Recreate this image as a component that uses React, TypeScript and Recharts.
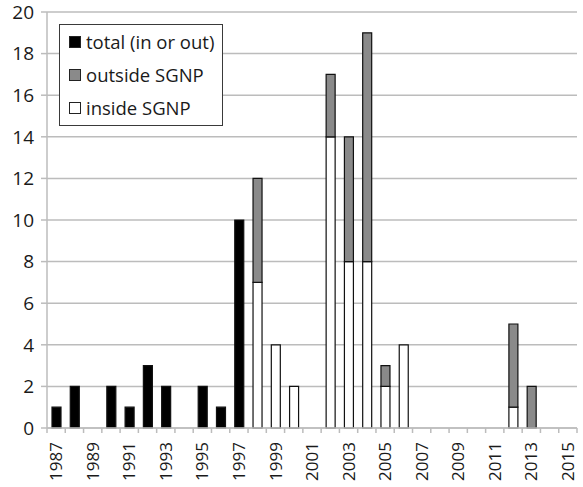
import React from "react";
import {
  BarChart,
  Bar,
  XAxis,
  YAxis,
  CartesianGrid,
  Legend,
} from "recharts";

const YEARS: string[] = [
  "1987", "1988", "1989", "1990", "1991", "1992", "1993", "1994", "1995", "1996",
  "1997", "1998", "1999", "2000", "2001", "2002", "2003", "2004", "2005", "2006",
  "2007", "2008", "2009", "2010", "2011", "2012", "2013", "2014", "2015",
];

const TOTAL: number[] = [
  1, 2, 0, 2, 1, 3, 2, 0, 2, 1,
  10, 0, 0, 0, 0, 0, 0, 0, 0, 0,
  0, 0, 0, 0, 0, 0, 0, 0, 0,
];

const INSIDE: number[] = [
  0, 0, 0, 0, 0, 0, 0, 0, 0, 0,
  0, 7, 4, 2, 0, 14, 8, 8, 2, 4,
  0, 0, 0, 0, 0, 1, 0, 0, 0,
];

const OUTSIDE: number[] = [
  0, 0, 0, 0, 0, 0, 0, 0, 0, 0,
  0, 5, 0, 0, 0, 3, 6, 11, 1, 0,
  0, 0, 0, 0, 0, 4, 2, 0, 0,
];

const Y_TICKS: number[] = [0, 2, 4, 6, 8, 10, 12, 14, 16, 18, 20];

const SERIES_NAMES = {
  total: "total (in or out)",
  outside: "outside SGNP",
  inside: "inside SGNP",
};
const LEGEND_ORDER = ["total", "outside", "inside"];

const data = YEARS.map((year, i) => ({
  year,
  total: TOTAL[i],
  inside: INSIDE[i],
  outside: OUTSIDE[i],
}));

const CHART_W = 583;
const CHART_H = 487;
const MARGIN = { top: 12, right: 6, left: 0, bottom: 0 };
const Y_AXIS_W = 47;
const X_AXIS_H = 59;
const FONT = "'Open Sans', sans-serif";
const GRID = "#bcbcbc";

const PLOT_W = CHART_W - MARGIN.left - MARGIN.right - Y_AXIS_W;
const HALF_STEP = PLOT_W / YEARS.length / 2;

const XTick = (props: any) => {
  const { x, y, payload, index } = props;
  const isLast = index === YEARS.length - 1;
  const showLabel = Number(payload.value) % 2 === 1;
  const ly = y + 14;
  return (
    <g>
      <line x1={x - HALF_STEP} x2={x - HALF_STEP} y1={y} y2={y + 5} stroke={GRID} strokeWidth={1.5} />
      {isLast && (
        <line x1={x + HALF_STEP} x2={x + HALF_STEP} y1={y} y2={y + 5} stroke={GRID} strokeWidth={1.5} />
      )}
      {showLabel && (
        <text
          x={x}
          y={ly}
          transform={`rotate(-90, ${x}, ${ly})`}
          textAnchor="end"
          dy="0.36em"
          fontSize={17}
          fontFamily={FONT}
          fill="#1a1a1a"
        >
          {payload.value}
        </text>
      )}
    </g>
  );
};

const LegendBox = (props: any) => {
  const payload: any[] = props.payload || [];
  const items = LEGEND_ORDER.map((k) => payload.find((p) => p.dataKey === k)).filter(Boolean);
  return (
    <div
      style={{
        border: "1.5px solid #3a3a3a",
        background: "#fff",
        width: 164,
        padding: "0 0 1px 0",
        boxSizing: "border-box",
        fontFamily: FONT,
        fontSize: 18.5,
        color: "#1a1a1a",
        whiteSpace: "nowrap",
      }}
    >
      {items.map((it: any) => (
        <div
          key={it.dataKey}
          style={{ display: "flex", alignItems: "center", height: 33, paddingLeft: 9 }}
        >
          <span
            style={{
              display: "inline-block",
              flex: "0 0 auto",
              width: 10,
              height: 10,
              background: it.payload?.fill ?? it.color,
              border: "1px solid #222",
              marginRight: 5,
            }}
          />
          <span>{it.value}</span>
        </div>
      ))}
    </div>
  );
};

export default function App() {
  return (
    <div style={{ position: "absolute", left: 0, top: 0, background: "#fff" }}>
      <BarChart
        width={CHART_W}
        height={CHART_H}
        data={data}
        margin={MARGIN}
        barSize={9}
      >
        <CartesianGrid horizontal vertical={false} stroke={GRID} strokeWidth={1.5} />
        <XAxis
          dataKey="year"
          interval={0}
          height={X_AXIS_H}
          axisLine={{ stroke: GRID, strokeWidth: 1.5 }}
          tickLine={false}
          tickSize={0}
          tickMargin={0}
          tick={<XTick />}
        />
        <YAxis
          width={Y_AXIS_W}
          domain={[0, 20]}
          ticks={Y_TICKS}
          interval={0}
          axisLine={{ stroke: GRID, strokeWidth: 1.5 }}
          tickLine={{ stroke: GRID, strokeWidth: 1.5 }}
          tickSize={6}
          tickMargin={7}
          tick={{ fontSize: 19, fontFamily: FONT, fill: "#1a1a1a" }}
        />
        <Legend
          layout="vertical"
          align="center"
          verticalAlign="middle"
          content={<LegendBox />}
          wrapperStyle={{ left: 59, top: 24, width: "auto" }}
        />
        <Bar dataKey="total" name={SERIES_NAMES.total} stackId="a" fill="#000000" stroke="#111" strokeWidth={1.2} isAnimationActive={false} />
        <Bar dataKey="inside" name={SERIES_NAMES.inside} stackId="a" fill="#ffffff" stroke="#111" strokeWidth={1.2} isAnimationActive={false} />
        <Bar dataKey="outside" name={SERIES_NAMES.outside} stackId="a" fill="#8a8a8a" stroke="#111" strokeWidth={1.2} isAnimationActive={false} />
      </BarChart>
    </div>
  );
}
